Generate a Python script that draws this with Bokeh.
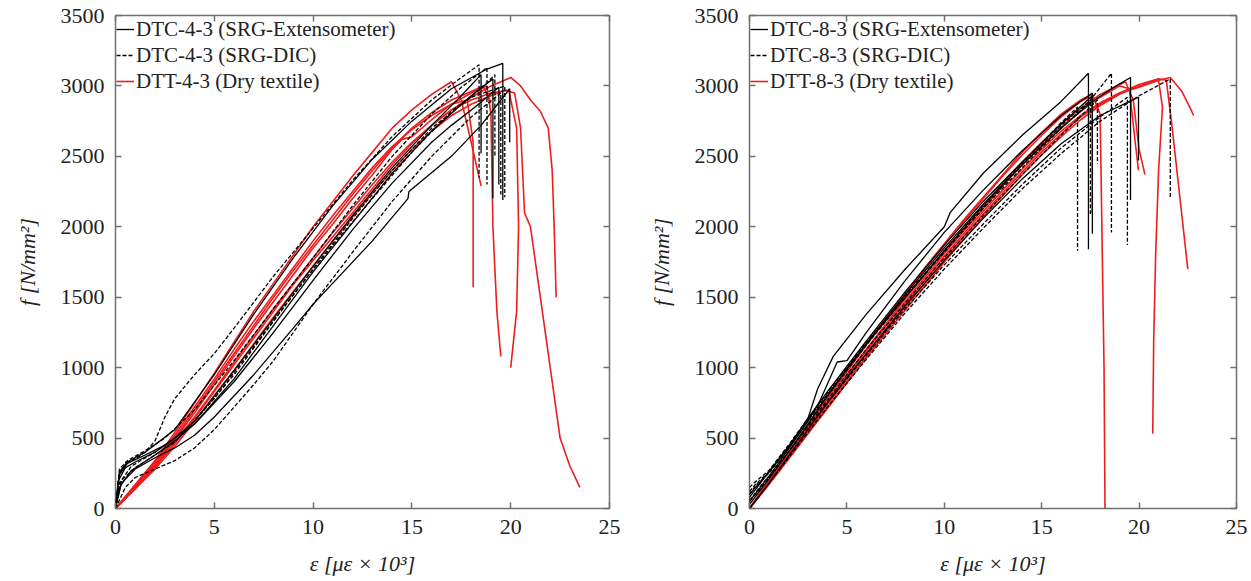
from bokeh.plotting import figure
from bokeh.models import ColumnDataSource, LinearAxis, Range1d, Legend, LegendItem
from bokeh.layouts import row
from bokeh.embed import file_html
from bokeh.resources import INLINE

# ---------------- Left panel: DTC-4-3 / DTT-4-3 ----------------
L_ext_x = [
    [0, 0.15, 0.5, 1, 2, 3, 4, 5, 6, 8, 10, 12, 14, 16, 17.5, 18.5, 18.5],
    [0, 0.2, 0.6, 1.5, 2.5, 4, 6, 8, 10, 12, 14, 16, 18, 19.1, 19.1],
    [0, 0.3, 1, 2, 3, 4, 5, 7, 9, 10, 11, 13, 14.8, 14.85, 17, 18.5, 19.95, 19.95],
    [0, 0.2, 0.6, 1.5, 3, 5, 7, 9, 11, 13, 15, 17, 18.8, 19.6, 19.6],
    [0, 0.2, 0.8, 2, 3, 4, 6, 8, 10, 12, 14, 16, 17, 18.2, 19.4, 19.4],
]
L_ext_y = [
    [0, 200, 290, 330, 400, 500, 620, 800, 980, 1350, 1720, 2080, 2420, 2720, 2930, 3080, 2520],
    [0, 240, 320, 380, 450, 600, 920, 1300, 1680, 2030, 2380, 2680, 2930, 3050, 2200],
    [0, 180, 280, 360, 430, 520, 650, 950, 1280, 1450, 1600, 1900, 2200, 2250, 2500, 2720, 2980, 2600],
    [0, 260, 330, 400, 560, 950, 1380, 1780, 2150, 2480, 2750, 2980, 3120, 3160, 2190],
    [0, 150, 270, 380, 480, 600, 900, 1250, 1620, 1980, 2310, 2600, 2720, 2850, 2990, 2300],
]
L_dic_x = [
    [0, 0.2, 0.6, 1, 1.5, 2, 2.5, 3, 4, 5, 6, 8, 10, 12, 14, 16, 17.5, 18.4, 18.4],
    [0, 0.5, 1, 2, 3, 4, 5, 6, 7, 8, 10, 12, 14, 16, 18, 19.5, 19.5],
    [0, 0.2, 0.6, 1.5, 2.5, 4, 6, 8, 10, 12, 14, 16, 17.5, 18.8, 18.8],
    [0, 0.3, 1, 2, 3, 5, 7, 9, 11, 13, 15, 17, 18.5, 19.2, 19.2],
    [0, 0.2, 0.8, 2, 3, 4, 6, 8, 10, 12, 14, 16, 18, 19.7, 19.7],
]
L_dic_y = [
    [0, 250, 330, 350, 400, 480, 650, 780, 950, 1100, 1280, 1650, 1990, 2330, 2640, 2900, 3060, 3150, 2350],
    [0, 150, 220, 280, 340, 430, 560, 720, 880, 1050, 1450, 1820, 2180, 2500, 2780, 2950, 2230],
    [0, 280, 340, 410, 500, 700, 1050, 1420, 1780, 2150, 2500, 2800, 2990, 3130, 2300],
    [0, 200, 290, 380, 470, 780, 1150, 1520, 1870, 2200, 2530, 2820, 2980, 3080, 2500],
    [0, 180, 300, 400, 500, 620, 950, 1330, 1700, 2060, 2400, 2700, 2920, 3000, 2210],
]
L_dry_x = [
    [0, 1, 2, 3, 4, 5, 6, 7, 8, 9, 10, 11, 12, 13, 14, 15, 16, 17, 17.5, 18, 18.5],
    [0, 1, 2, 3, 4, 5, 6, 7, 8, 9, 10, 11, 12, 13, 14, 15, 16, 17, 17.8, 18.1, 18.1],
    [0, 1, 2, 3, 4, 5, 6, 7, 8, 9, 10, 11, 12, 13, 14, 14.5, 15, 16, 17, 18, 18.8, 19.0, 19.1, 19.3, 19.5],
    [0, 1, 2, 3, 4, 5, 6, 7, 8, 9, 10, 11, 12, 13, 14, 15, 16, 17, 18, 19, 19.9, 20.3, 20.4, 20.3, 20.0],
    [0, 1, 2, 3, 4, 5, 6, 7, 8, 9, 10, 11, 12, 13, 14, 15, 16, 17, 18, 19, 20, 20.5, 21, 21.5, 21.9, 22.1, 22.2, 22.3],
    [0, 1, 2, 3, 4, 5, 6, 7, 8, 9, 10, 11, 12, 13, 14, 15, 16, 17, 18, 19, 19.7, 20.2, 20.5, 20.7, 21, 21.5, 22, 22.5, 23, 23.5],
    [0, 1, 2, 3, 4, 5, 6, 7, 8, 9, 10, 11, 12, 13, 14, 15, 16, 17, 18, 18.6, 19.0],
]
L_dry_y = [
    [0, 170, 340, 540, 750, 960, 1180, 1400, 1600, 1800, 2000, 2180, 2360, 2530, 2700, 2830, 2940, 3030, 2900, 2600, 2290],
    [0, 160, 330, 520, 720, 920, 1130, 1330, 1520, 1710, 1900, 2080, 2250, 2420, 2570, 2690, 2790, 2870, 2900, 2600, 1570],
    [0, 150, 310, 490, 680, 880, 1080, 1280, 1470, 1660, 1850, 2020, 2200, 2370, 2550, 2620, 2640, 2760, 2870, 2950, 3000, 2800, 2000, 1400, 1080],
    [0, 140, 290, 460, 640, 830, 1020, 1210, 1400, 1590, 1760, 1930, 2100, 2270, 2440, 2590, 2720, 2830, 2900, 2950, 2970, 2700, 2000, 1400, 1000],
    [0, 150, 300, 470, 650, 840, 1040, 1230, 1420, 1600, 1780, 1960, 2130, 2300, 2460, 2600, 2720, 2830, 2920, 3000, 3060, 3000, 2900, 2820, 2700, 2400, 2000, 1500],
    [0, 140, 280, 440, 620, 800, 980, 1170, 1360, 1540, 1720, 1900, 2070, 2240, 2400, 2550, 2680, 2790, 2870, 2930, 2970, 2950, 2700, 2100, 2000, 1500, 1000, 500, 300, 150],
    [0, 160, 320, 500, 700, 900, 1100, 1300, 1500, 1690, 1870, 2050, 2230, 2400, 2560, 2700, 2810, 2900, 2960, 3000, 2880],
]

# ---------------- Right panel: DTC-8-3 / DTT-8-3 ----------------
R_ext_x = [
    [0, 0.5, 1, 2, 3, 3.5, 4.3, 6, 8, 10, 10.3, 12, 14, 16, 17.4, 17.4],
    [0, 1, 2, 3, 3.6, 4.5, 5, 6, 8, 10, 12, 14, 16, 17.6, 17.6],
    [0, 1, 2, 3, 4, 5, 6, 8, 10, 12, 14, 16, 18, 19.97, 19.97],
    [0, 1, 2, 3, 4, 5, 6, 8, 10, 12, 14, 16, 17.5, 18.7, 19.56, 19.56],
    [0, 1, 2, 3, 4, 5, 6, 8, 10, 12, 14, 16, 17.6, 17.6],
]
R_ext_y = [
    [80, 170, 260, 430, 640, 850, 1080, 1380, 1700, 2000, 2100, 2380, 2650, 2890, 3090, 1840],
    [50, 230, 420, 620, 760, 1040, 1050, 1250, 1620, 1960, 2260, 2540, 2790, 2950, 1950],
    [0, 180, 370, 560, 750, 930, 1100, 1440, 1760, 2060, 2340, 2590, 2790, 2920, 2470],
    [30, 210, 400, 600, 800, 990, 1170, 1520, 1850, 2160, 2440, 2700, 2880, 2990, 3060, 2190],
    [100, 260, 440, 640, 830, 1010, 1190, 1540, 1870, 2180, 2460, 2730, 2930, 2100],
]
R_dic_x = [
    [0, 0.3, 1, 2, 3, 4, 5, 6, 8, 10, 12, 14, 16, 16.84, 16.84],
    [0, 0.3, 1, 2, 3, 4, 5, 6, 8, 10, 12, 14, 16, 17.5, 18.58, 18.58],
    [0, 0.5, 1, 2, 3, 4, 5, 6, 8, 10, 12, 14, 16, 18, 19.4, 19.4],
    [0, 1, 2, 3, 4, 5, 6, 8, 10, 12, 14, 16, 18, 20, 21.6, 21.6],
    [0, 0.3, 1, 2, 3, 4, 5, 6, 8, 10, 12, 14, 16, 17.5, 17.5],
    [0, 0.5, 1, 2, 3, 4, 5, 6, 8, 10, 12, 14, 16, 17.86, 17.86],
]
R_dic_y = [
    [120, 170, 260, 440, 630, 810, 990, 1170, 1500, 1830, 2150, 2450, 2740, 2850, 1830],
    [150, 190, 270, 450, 640, 820, 1000, 1180, 1510, 1830, 2140, 2440, 2720, 2900, 3090, 1960],
    [50, 150, 230, 400, 580, 750, 920, 1090, 1420, 1730, 2020, 2300, 2560, 2780, 2920, 1870],
    [0, 180, 360, 540, 720, 890, 1060, 1390, 1700, 1990, 2270, 2520, 2750, 2930, 3050, 2200],
    [100, 160, 250, 430, 620, 800, 980, 1160, 1500, 1820, 2130, 2420, 2700, 2890, 2090],
    [60, 130, 220, 400, 590, 770, 950, 1130, 1460, 1780, 2080, 2370, 2650, 2900, 2450],
]
R_dry_x = [
    [0, 1, 2, 3, 4, 5, 6, 7, 8, 9, 10, 11, 12, 13, 14, 15, 16, 17, 17.6, 18.0, 18.2, 18.25],
    [0, 1, 2, 3, 4, 5, 6, 7, 8, 9, 10, 11, 12, 13, 14, 15, 16, 17, 18, 19, 20, 21.0, 21.2, 21.0, 20.85, 20.75, 20.7],
    [0, 1, 2, 3, 4, 5, 6, 7, 8, 9, 10, 11, 12, 13, 14, 15, 16, 17, 18, 19, 20, 21, 21.6, 22.2, 22.6, 22.8],
    [0, 1, 2, 3, 4, 5, 6, 7, 8, 9, 10, 11, 12, 13, 14, 15, 16, 17, 18, 19, 20, 21, 21.4, 21.7, 22.1, 22.5],
    [0, 1, 2, 3, 4, 5, 6, 7, 8, 9, 10, 11, 12, 13, 14, 15, 16, 17, 18, 19.3, 19.7, 20.0, 20.3],
    [0, 1, 2, 3, 4, 5, 6, 7, 8, 9, 10, 11, 12, 13, 14, 15, 16, 17, 18, 19.0, 19.5, 19.8, 19.97],
    [0, 1, 2, 3, 4, 5, 6, 7, 8, 9, 10, 11, 12, 13, 14, 15, 16, 17, 17.4, 17.6],
]
R_dry_y = [
    [0, 200, 390, 590, 790, 980, 1170, 1350, 1530, 1710, 1880, 2050, 2210, 2370, 2530, 2670, 2800, 2900, 2940, 2800, 1000, 0],
    [0, 180, 360, 550, 740, 920, 1100, 1280, 1450, 1620, 1790, 1950, 2110, 2260, 2410, 2550, 2680, 2790, 2880, 2950, 2990, 3040, 2850, 2400, 1800, 1200, 530],
    [0, 170, 350, 530, 710, 890, 1070, 1240, 1410, 1580, 1750, 1910, 2070, 2220, 2370, 2510, 2640, 2760, 2860, 2940, 3000, 3040, 3060, 2960, 2850, 2790],
    [0, 175, 355, 540, 720, 900, 1080, 1260, 1430, 1600, 1770, 1930, 2090, 2240, 2390, 2530, 2660, 2780, 2870, 2950, 3010, 3050, 3040, 2700, 2200, 1700],
    [0, 190, 380, 570, 760, 950, 1130, 1310, 1490, 1660, 1830, 1990, 2150, 2310, 2460, 2600, 2730, 2840, 2940, 3030, 2900, 2550, 2370],
    [0, 185, 370, 560, 750, 940, 1120, 1300, 1470, 1640, 1810, 1970, 2130, 2290, 2440, 2580, 2710, 2820, 2920, 3000, 2980, 2600, 2400],
    [0, 195, 390, 585, 780, 970, 1160, 1340, 1520, 1700, 1870, 2040, 2200, 2360, 2510, 2650, 2780, 2890, 2920, 2900],
]

LEFT_LABELS = ["DTC-4-3 (SRG-Extensometer)", "DTC-4-3 (SRG-DIC)", "DTT-4-3 (Dry textile)"]
RIGHT_LABELS = ["DTC-8-3 (SRG-Extensometer)", "DTC-8-3 (SRG-DIC)", "DTT-8-3 (Dry textile)"]
X_TICKS = [0, 5, 10, 15, 20, 25]
Y_TICKS = [0, 500, 1000, 1500, 2000, 2500, 3000, 3500]

FONT = "Liberation Serif"
AXIS_COLOR = "#707070"
TEXT_COLOR = "#222222"
RED = "#ee1d1d"


def make_panel(ext, dic, dry, labels, min_left, frame_w, min_right):
    p = figure(output_backend="svg", toolbar_location=None,
               frame_width=frame_w, frame_height=493,
               min_border_left=min_left, min_border_right=min_right,
               min_border_top=15, min_border_bottom=10,
               x_range=Range1d(0, 25), y_range=Range1d(0, 3500),
               x_axis_label="ε [με × 10³]", y_axis_label="f [N/mm²]")
    p.grid.visible = False
    p.outline_line_color = AXIS_COLOR
    p.outline_line_width = 1.5
    p.background_fill_color = "white"
    p.border_fill_color = "white"

    r_dry = p.multi_line(xs="xs", ys="ys", source=ColumnDataSource(dict(xs=dry[0], ys=dry[1])),
                         line_color=RED, line_width=1.6)
    r_dic = p.multi_line(xs="xs", ys="ys", source=ColumnDataSource(dict(xs=dic[0], ys=dic[1])),
                         line_color="black", line_width=1.3, line_dash="4 2")
    r_ext = p.multi_line(xs="xs", ys="ys", source=ColumnDataSource(dict(xs=ext[0], ys=ext[1])),
                         line_color="black", line_width=1.3)

    p.add_layout(LinearAxis(), "right")
    p.add_layout(LinearAxis(), "above")
    for ax in p.axis:
        ax.axis_line_color = None
        ax.major_tick_in = 6
        ax.major_tick_out = 0
        ax.minor_tick_in = 0
        ax.minor_tick_out = 0
        ax.major_tick_line_color = AXIS_COLOR
        ax.major_tick_line_width = 1.5
        ax.major_label_text_font = FONT
        ax.major_label_text_font_size = "22px"
        ax.major_label_text_color = TEXT_COLOR
        ax.axis_label_text_font = FONT
        ax.axis_label_text_font_size = "22px"
        ax.axis_label_text_font_style = "italic"
        ax.axis_label_text_color = TEXT_COLOR
    for ax in p.xaxis:
        ax.ticker = X_TICKS
    for ax in p.yaxis:
        ax.ticker = Y_TICKS
    for ax in (p.right[0], p.above[0]):
        ax.major_label_text_font_size = "0px"
        ax.major_label_text_color = None
        ax.major_label_standoff = 0
    p.below[0].major_label_standoff = 11
    p.below[0].axis_label_standoff = 14
    p.left[0].major_label_standoff = 11
    p.left[0].axis_label_standoff = 18

    legend = Legend(items=[LegendItem(label=labels[0], renderers=[r_ext]),
                           LegendItem(label=labels[1], renderers=[r_dic]),
                           LegendItem(label=labels[2], renderers=[r_dry])],
                    location="top_left")
    legend.border_line_color = None
    legend.background_fill_alpha = 0
    legend.label_text_font = FONT
    legend.label_text_font_size = "21px"
    legend.label_text_color = TEXT_COLOR
    legend.glyph_width = 18
    legend.glyph_height = 26
    legend.label_height = 26
    legend.label_standoff = 2
    legend.spacing = 0
    legend.padding = 6
    legend.margin = 1
    p.add_layout(legend)
    return p


p1 = make_panel((L_ext_x, L_ext_y), (L_dic_x, L_dic_y), (L_dry_x, L_dry_y), LEFT_LABELS, 115, 494, 20)
p2 = make_panel((R_ext_x, R_ext_y), (R_dic_x, R_dic_y), (R_dry_x, R_dry_y), RIGHT_LABELS, 120, 487, 15)

layout = row(p1, p2)
open("out.html", "w").write(file_html(layout, INLINE))
